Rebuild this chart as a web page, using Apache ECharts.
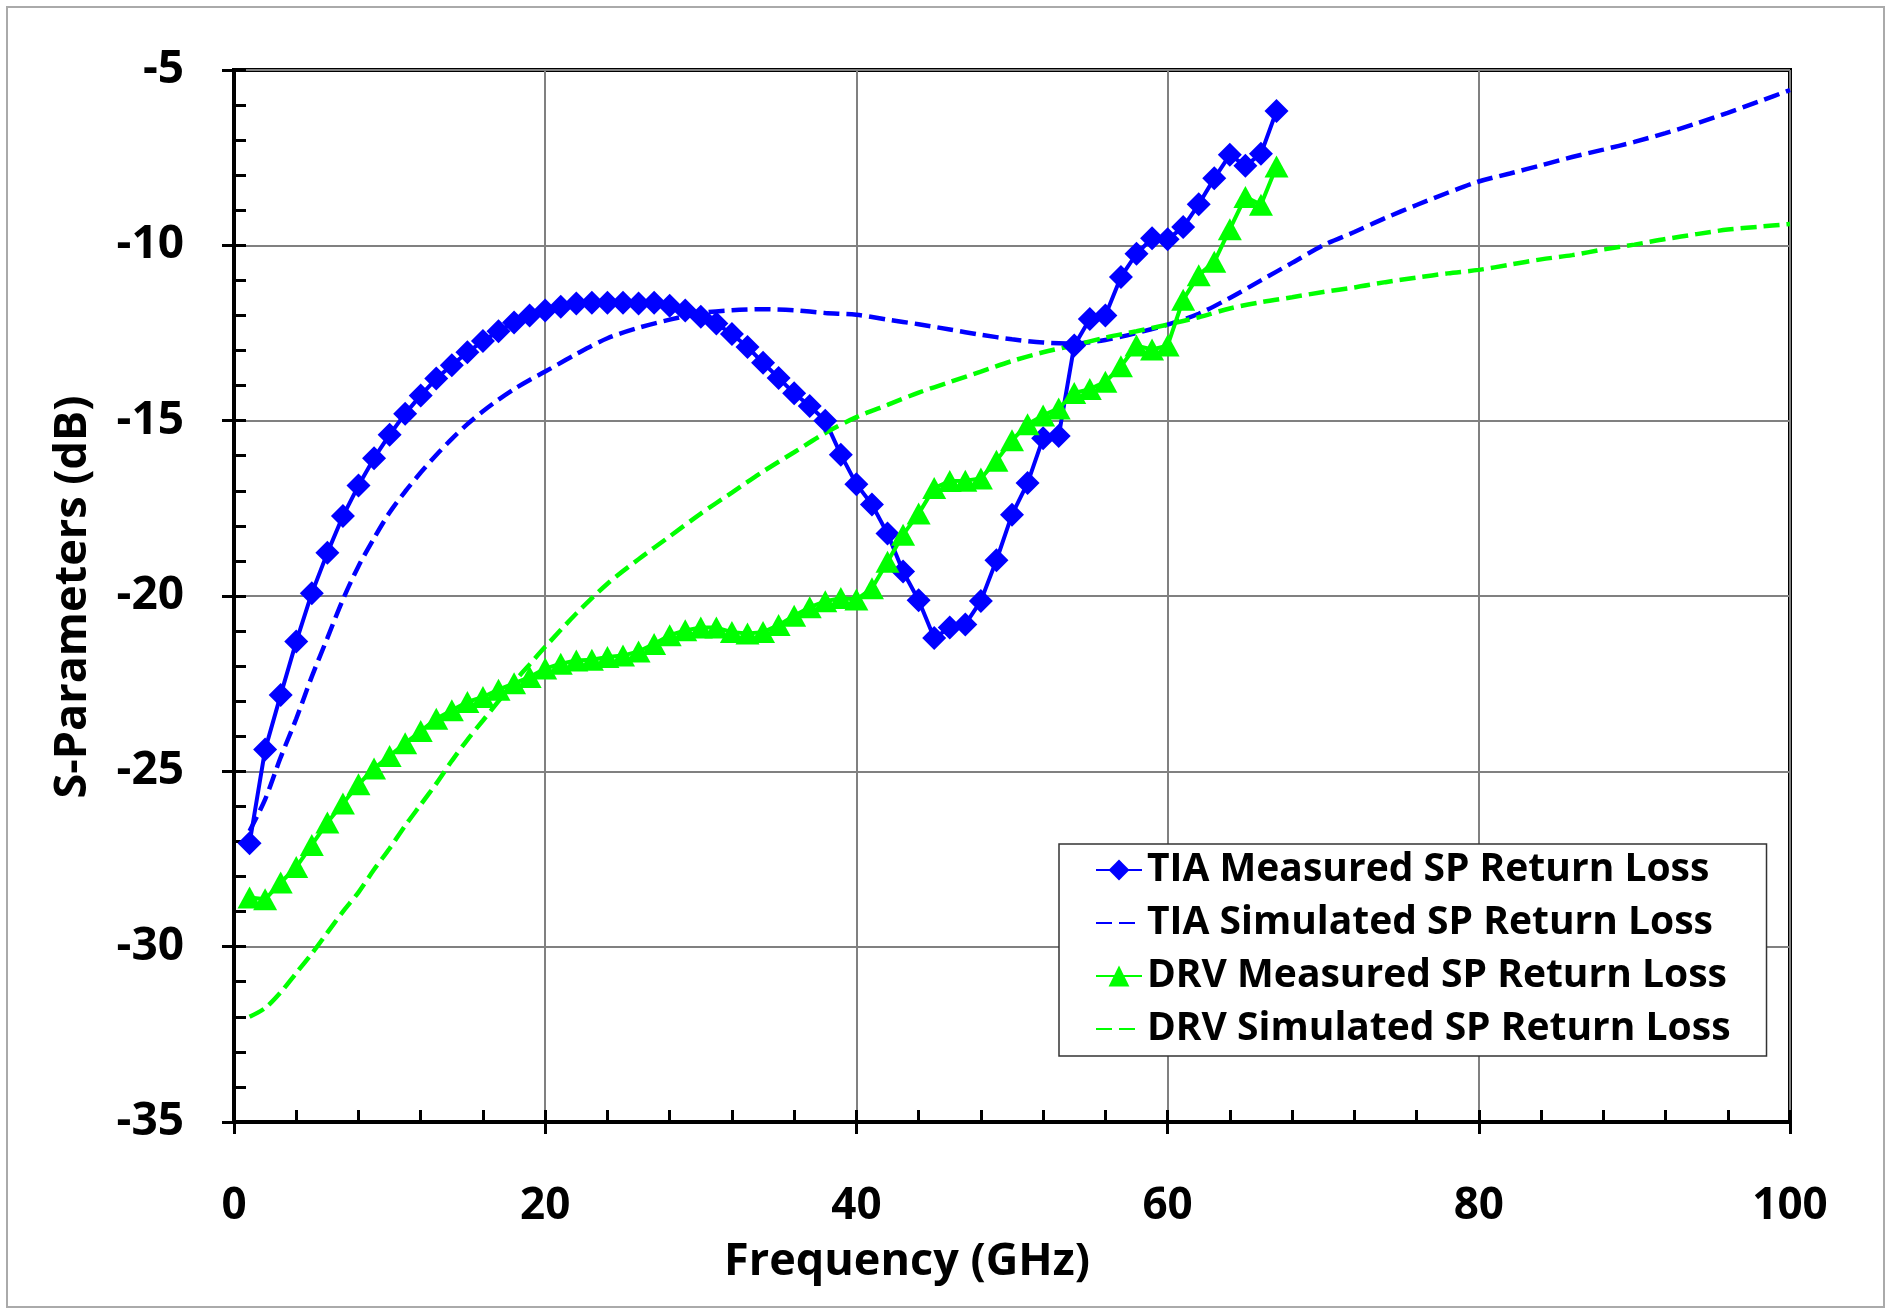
<!DOCTYPE html>
<html lang="en">
<head>
    <meta charset="UTF-8">
    <title>S-Parameters Return Loss</title>
    <script src="https://cdn.jsdelivr.net/npm/echarts@6/dist/echarts.min.js"></script>
    <style>
        * { margin: 0; padding: 0; box-sizing: border-box; }
        body { background: #fff; }
        #chart { width: 1891px; height: 1310px; }
    </style>
</head>
<body>
    <div id="chart"></div>

    <script>
        // measured data, 1 GHz steps
        const measFreq = [1, 2, 3, 4, 5, 6, 7, 8, 9, 10, 11, 12, 13, 14, 15, 16, 17, 18, 19, 20,
            21, 22, 23, 24, 25, 26, 27, 28, 29, 30, 31, 32, 33, 34, 35, 36, 37, 38, 39, 40,
            41, 42, 43, 44, 45, 46, 47, 48, 49, 50, 51, 52, 53, 54, 55, 56, 57, 58, 59, 60,
            61, 62, 63, 64, 65, 66, 67];
        const tiaMeasured = [-27.05, -24.38, -22.82, -21.3, -19.92, -18.77, -17.72, -16.85, -16.07, -15.4,
            -14.8, -14.28, -13.8, -13.42, -13.05, -12.73, -12.45, -12.2, -12.0, -11.86,
            -11.75, -11.66, -11.64, -11.64, -11.64, -11.66, -11.64, -11.72, -11.86, -12.04,
            -12.23, -12.53, -12.9, -13.35, -13.78, -14.22, -14.58, -15.0, -15.97, -16.81,
            -17.39, -18.22, -19.3, -20.12, -21.2, -20.9, -20.81, -20.14, -18.98, -17.68,
            -16.78, -15.5, -15.44, -12.86, -12.1, -12.0, -10.9, -10.24, -9.8, -9.83,
            -9.48, -8.83, -8.09, -7.42, -7.73, -7.39, -6.17];
        const drvMeasured = [-28.6, -28.65, -28.17, -27.73, -27.1, -26.46, -25.92, -25.37, -24.92, -24.56,
            -24.2, -23.85, -23.5, -23.26, -23.02, -22.88, -22.67, -22.49, -22.31, -22.07,
            -21.93, -21.84, -21.82, -21.74, -21.7, -21.58, -21.37, -21.12, -20.98, -20.9,
            -20.9, -21.03, -21.07, -21.03, -20.83, -20.56, -20.32, -20.15, -20.06, -20.1,
            -19.78, -19.02, -18.25, -17.65, -16.92, -16.72, -16.71, -16.65, -16.14, -15.56,
            -15.1, -14.85, -14.65, -14.21, -14.1, -13.89, -13.45, -12.86, -12.97, -12.86,
            -11.55, -10.85, -10.47, -9.54, -8.62, -8.84, -7.75];

        // simulated data
        const simFreq = [1, 2, 3, 4, 5, 6, 7, 8, 9, 10, 11, 12, 13, 14, 15, 16, 17, 18, 19, 20,
            22, 24, 26, 28, 30, 32, 34, 36, 38, 40, 42, 44, 46, 48, 50, 52, 54, 56, 58, 60,
            62, 64, 66, 68, 70, 72, 74, 76, 78, 80, 82, 84, 86, 88, 90, 92, 94, 96, 98, 100];
        const tiaSimulated = [-26.7, -25.8, -24.6, -23.5, -22.3, -21.2, -20.1, -19.15, -18.35, -17.62,
            -17.02, -16.48, -15.98, -15.52, -15.1, -14.73, -14.4, -14.1, -13.84, -13.6,
            -13.1, -12.65, -12.35, -12.12, -11.93, -11.85, -11.82, -11.85, -11.93, -11.98,
            -12.12, -12.25, -12.4, -12.55, -12.68, -12.77, -12.8, -12.7, -12.5, -12.26,
            -11.95, -11.5, -11.0, -10.5, -10.0, -9.62, -9.22, -8.85, -8.5, -8.18,
            -7.95, -7.72, -7.48, -7.27, -7.05, -6.8, -6.52, -6.22, -5.9, -5.57];
        const drvSimulated = [-32.0, -31.75, -31.3, -30.75, -30.2, -29.6, -29.0, -28.45, -27.8, -27.2,
            -26.55, -25.95, -25.35, -24.7, -24.1, -23.55, -23.0, -22.45, -21.95, -21.45,
            -20.5, -19.65, -18.95, -18.3, -17.65, -17.05, -16.45, -15.9, -15.35, -14.9,
            -14.55, -14.2, -13.9, -13.6, -13.3, -13.05, -12.85, -12.63, -12.45, -12.26,
            -12.05, -11.8, -11.62, -11.48, -11.33, -11.2, -11.05, -10.92, -10.8, -10.7,
            -10.55, -10.4, -10.28, -10.12, -9.98, -9.82, -9.68, -9.55, -9.47, -9.39];

        const seriesNames = ['TIA Measured SP Return Loss', 'TIA Simulated SP Return Loss',
            'DRV Measured SP Return Loss', 'DRV Simulated SP Return Loss'];

        function pairs(xs, ys) {
            return xs.map(function(x, i) { return [x, ys[i]]; });
        }

        const FONT = 'Open Sans';
        const BLUE = '#0000ff';
        const GREEN = '#00ff00';

        const chart = echarts.init(document.getElementById('chart'));

        const axisBase = {
            type: 'value',
            axisLine: { show: true, lineStyle: { color: '#000', width: 4 } },
        };

        chart.setOption({
            animation: false,
            backgroundColor: '#fff',
            grid: {
                left: 234, right: 101, top: 70, bottom: 188,
                show: true, borderColor: '#000', borderWidth: 4,
                backgroundColor: 'transparent'
            },
            xAxis: [
                Object.assign({}, axisBase, {
                    min: 0, max: 100, interval: 20,
                    axisTick: { show: true, inside: true, length: 12, lineStyle: { color: '#000', width: 3 } },
                    minorTick: { show: true, splitNumber: 5, length: 12, lineStyle: { color: '#000', width: 3 } },
                    splitLine: { show: true, lineStyle: { color: '#808080', width: 2 } },
                    axisLabel: { margin: 62, fontFamily: FONT, fontWeight: 'bold', fontSize: 44, color: '#000' }
                }),
                Object.assign({}, axisBase, {
                    min: 0, max: 100, interval: 20, position: 'bottom',
                    axisLine: { show: false },
                    axisTick: { show: true, inside: false, length: 12, lineStyle: { color: '#000', width: 3 } },
                    splitLine: { show: false },
                    axisLabel: { show: false }
                })
            ],
            yAxis: [
                Object.assign({}, axisBase, {
                    min: -35, max: -5, interval: 5,
                    axisTick: { show: true, inside: true, length: 12, lineStyle: { color: '#000', width: 3 } },
                    minorTick: { show: true, splitNumber: 5, length: 12, lineStyle: { color: '#000', width: 3 } },
                    splitLine: { show: true, lineStyle: { color: '#808080', width: 2 } },
                    axisLabel: { margin: 50, fontFamily: FONT, fontWeight: 'bold', fontSize: 46, color: '#000' }
                }),
                Object.assign({}, axisBase, {
                    min: -35, max: -5, interval: 5, position: 'left',
                    axisLine: { show: false },
                    axisTick: { show: true, inside: false, length: 12, lineStyle: { color: '#000', width: 3 } },
                    splitLine: { show: false },
                    axisLabel: { show: false }
                })
            ],
            legend: {
                data: seriesNames,
                orient: 'vertical',
                left: 1059, top: 844,
                padding: [6, 36, 7, 36],
                itemWidth: 46, itemHeight: 26, itemGap: 13,
                backgroundColor: '#fff',
                borderColor: '#333', borderWidth: 1.5, borderRadius: 0,
                textStyle: { fontFamily: FONT, fontWeight: 'bold', fontSize: 39, color: '#000', lineHeight: 40 }
            },
            graphic: [
                {
                    type: 'rect', silent: true, z: -10,
                    shape: { x: 7, y: 7, width: 1877, height: 1300 },
                    style: { fill: 'none', stroke: '#aaaaaa', lineWidth: 2 }
                },
                {
                    type: 'text', x: 907, y: 1262,
                    style: { text: 'Frequency (GHz)', fontFamily: FONT, fontWeight: 'bold', fontSize: 45,
                        fill: '#000', align: 'center', verticalAlign: 'middle' }
                },
                {
                    type: 'text', x: 73, y: 597, rotation: Math.PI / 2,
                    style: { text: 'S-Parameters (dB)', fontFamily: FONT, fontWeight: 'bold', fontSize: 45,
                        fill: '#000', align: 'center', verticalAlign: 'middle' }
                }
            ],
            series: [
                {
                    name: seriesNames[0], type: 'line',
                    data: pairs(measFreq, tiaMeasured),
                    symbol: 'diamond', symbolSize: 24,
                    itemStyle: { color: BLUE },
                    lineStyle: { color: BLUE, width: 4 }
                },
                {
                    name: seriesNames[1], type: 'line',
                    data: pairs(simFreq, tiaSimulated),
                    symbol: 'none', smooth: 0.3,
                    itemStyle: { color: BLUE, opacity: 0 },   // hides the legend dot
                    lineStyle: { color: BLUE, width: 4.5, type: [16, 7] }
                },
                {
                    name: seriesNames[2], type: 'line',
                    data: pairs(measFreq, drvMeasured),
                    symbol: 'triangle', symbolSize: [24, 22],
                    itemStyle: { color: GREEN },
                    lineStyle: { color: GREEN, width: 4 }
                },
                {
                    name: seriesNames[3], type: 'line',
                    data: pairs(simFreq, drvSimulated),
                    symbol: 'none', smooth: 0.3,
                    itemStyle: { color: GREEN, opacity: 0 },
                    lineStyle: { color: GREEN, width: 4.5, type: [16, 7] }
                }
            ]
        });

        window.addEventListener('resize', function() {
            chart.resize();
        });
    </script>
</body>
</html>
